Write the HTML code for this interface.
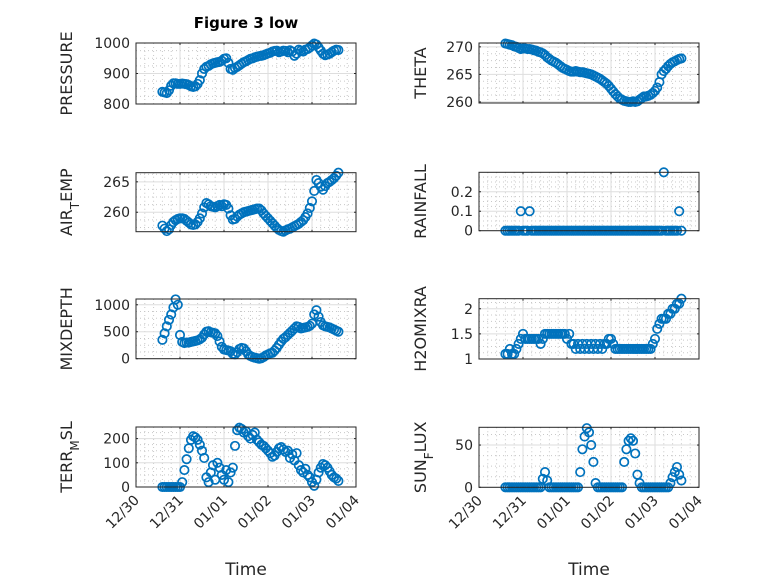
<!DOCTYPE html>
<html><head><meta charset="utf-8">
<style>
html,body{margin:0;padding:0;background:#fff;}
svg{display:block;font-family:"DejaVu Sans","Liberation Sans",sans-serif;}
</style></head>
<body>
<svg id="fig" width="778" height="583" viewBox="0 0 778 583">
<rect width="778" height="583" fill="#fff"/>
<text x="246" y="28" text-anchor="middle" font-size="15" font-weight="bold" fill="#000">Figure 3 low</text>
</svg>
<script>
const times = [0.6,0.65,0.7,0.75,0.8,0.85,0.9,0.95,1.0,1.05,1.1,1.15,1.2,1.25,1.3,1.35,1.4,1.45,1.5,1.55,1.6,1.65,1.7,1.75,1.8,1.85,1.9,1.95,2.0,2.05,2.1,2.15,2.2,2.25,2.3,2.35,2.4,2.45,2.5,2.55,2.6,2.65,2.7,2.75,2.8,2.85,2.9,2.95,3.0,3.05,3.1,3.15,3.2,3.25,3.3,3.35,3.4,3.45,3.5,3.55,3.6,3.65,3.7,3.75,3.8,3.85,3.9,3.95,4.0,4.05,4.1,4.15,4.2,4.25,4.3,4.35,4.4,4.45,4.5,4.55,4.6];
const xTickLabels = ["12/30","12/31","01/01","01/02","01/03","01/04"];
const pressure = [840,838,836,845,860,868,868,866,866,867,866,865,862,858,856,858,866,878,900,915,922,925,930,933,935,937,938,942,948,950,935,915,912,918,922,927,932,937,940,944,948,950,953,955,957,958,960,963,966,968,972,974,975,970,972,975,974,970,976,972,958,965,978,975,972,978,980,985,992,998,995,985,975,965,960,962,965,970,975,978,977];
const theta = [270.6,270.5,270.4,270.3,270.1,270.0,269.8,269.6,269.7,269.7,269.6,269.6,269.5,269.4,269.3,269.1,269.0,268.8,268.5,268.1,267.8,267.5,267.3,267.1,266.8,266.5,266.2,266.0,265.8,265.6,265.5,265.5,265.6,265.5,265.4,265.4,265.3,265.2,265.1,265.0,264.8,264.6,264.4,264.2,263.9,263.6,263.3,262.9,262.4,261.9,261.4,261.0,260.6,260.4,260.2,260.1,260.0,260.0,260.1,260.0,260.1,260.4,260.7,261.0,261.0,261.1,261.3,261.6,262.0,262.6,263.6,265.0,265.6,266.0,266.5,266.9,267.2,267.4,267.6,267.8,267.9];
const airTemp = [257.8,257.3,256.9,257.2,257.9,258.4,258.7,258.9,259.0,259.0,258.9,258.6,258.3,258.0,257.9,258.0,258.4,259.0,259.8,260.8,261.5,261.3,261.0,260.9,260.8,261.0,261.2,261.0,261.3,261.2,260.6,259.5,258.8,258.9,259.3,259.6,259.8,260.0,260.1,260.2,260.3,260.4,260.5,260.6,260.6,260.3,259.8,259.4,259.0,258.6,258.2,257.8,257.4,257.1,256.9,256.8,257.0,257.2,257.3,257.5,257.7,257.9,258.1,258.4,258.7,259.2,259.8,260.7,261.8,263.5,265.3,264.8,264.2,263.7,264.3,264.8,265.0,265.3,265.6,266.0,266.5];
const rainfall = [0,0,0,0,0,0,0,0.1,0,0,0,0.1,0,0,0,0,0,0,0,0,0,0,0,0,0,0,0,0,0,0,0,0,0,0,0,0,0,0,0,0,0,0,0,0,0,0,0,0,0,0,0,0,0,0,0,0,0,0,0,0,0,0,0,0,0,0,0,0,0,0,0,0,0.3,0,0,0,0,0,0,0.1,0];
const mixDepth = [350,470,600,720,820,950,1100,1000,440,310,290,300,300,310,320,330,340,360,390,450,500,510,490,480,470,420,320,220,170,160,150,140,90,80,120,180,200,190,140,80,50,30,20,10,0,10,30,60,80,100,110,150,200,260,320,370,400,440,480,520,560,600,590,560,570,580,590,610,650,820,900,780,680,620,600,590,580,560,540,520,500];
const h2oMix = [1.1,1.1,1.2,1.1,1.1,1.2,1.3,1.4,1.5,1.4,1.4,1.4,1.4,1.4,1.4,1.4,1.3,1.4,1.5,1.5,1.5,1.5,1.5,1.5,1.5,1.5,1.5,1.5,1.4,1.5,1.3,1.3,1.2,1.3,1.2,1.3,1.2,1.3,1.2,1.3,1.2,1.3,1.2,1.3,1.2,1.3,1.3,1.4,1.4,1.3,1.2,1.2,1.2,1.2,1.2,1.2,1.2,1.2,1.2,1.2,1.2,1.2,1.2,1.2,1.2,1.2,1.2,1.3,1.4,1.6,1.7,1.8,1.8,1.8,1.9,1.9,2.0,2.0,2.1,2.1,2.2];
const terrMsl = [0,0,0,0,0,0,0,0,0,20,70,115,160,195,210,205,195,175,150,120,40,20,60,90,30,100,80,50,30,70,20,60,80,170,235,245,240,225,230,210,200,215,225,195,185,175,170,160,150,140,125,130,145,160,165,155,145,150,120,135,110,140,90,70,60,75,50,40,20,5,30,60,80,95,90,80,65,50,40,35,25];
const sunFlux = [0,0,0,0,0,0,0,0,0,0,0,0,0,0,0,0,0,10,18,8,0,0,0,0,0,0,0,0,0,0,0,0,0,0,18,45,60,70,65,50,30,5,0,0,0,0,0,0,0,0,0,0,0,0,30,45,55,58,55,40,15,5,0,0,0,0,0,0,0,0,0,0,0,0,0,5,12,18,24,15,8];

const pressureTicks=[800,900,1000], thetaTicks=[260,265,270], airTicks=[260,265], rainTicks=[0,0.1,0.2], mixTicks=[0,500,1000], h2oTicks=[1,1.5,2], terrTicks=[0,100,200], sunTicks=[0,50];

const NS='http://www.w3.org/2000/svg';
const svg=document.getElementById('fig');
function mk(tag,attrs,parent){const e=document.createElementNS(NS,tag);for(const k in attrs)e.setAttribute(k,attrs[k]);(parent||svg).appendChild(e);return e;}

function panel(key,x0,x1,y0,y1,ymin,ymax,ticks,minorStep,series,labelHTML,labelX,showX){
  const g=mk('g',{});
  
  
  const sx=t=>x0+(t/5)*(x1-x0);
  const sy=v=>y1-(v-ymin)/(ymax-ymin)*(y1-y0);
  mk('rect',{x:x0,y:y0,width:x1-x0,height:y1-y0,fill:'#fff'},g);
  for(let d=0;d<5;d++)for(let k=1;k<5;k++){const xx=sx(d+k/5);mk('line',{x1:xx,x2:xx,y1:y0,y2:y1,stroke:'#c8c8c8','stroke-width':1,'stroke-dasharray':'1,3'},g);}
  for(let v=Math.ceil(ymin/minorStep)*minorStep;v<ymax;v+=minorStep){const yy=sy(v);if(ticks.some(t=>Math.abs(t-v)<1e-9))continue;mk('line',{x1:x0,x2:x1,y1:yy,y2:yy,stroke:'#c8c8c8','stroke-width':1,'stroke-dasharray':'1,3'},g);}
  for(let d=1;d<5;d++){const xx=sx(d);mk('line',{x1:xx,x2:xx,y1:y0,y2:y1,stroke:'#dedede','stroke-width':1},g);}
  ticks.forEach(v=>{const yy=sy(v);mk('line',{x1:x0,x2:x1,y1:yy,y2:yy,stroke:'#dedede','stroke-width':1},g);
    const tl=mk('text',{x:x0-6,y:yy+5,'text-anchor':'end','font-size':14,fill:'#262626'},g);tl.textContent=String(v);
    
    
    mk('line',{x1:x0,x2:x0+2,y1:yy,y2:yy,stroke:'#262626'},g);mk('line',{x1:x1-2,x2:x1,y1:yy,y2:yy,stroke:'#262626'},g);});
  for(let d=0;d<=5;d++){const xx=sx(d);mk('line',{x1:xx,x2:xx,y1:y1,y2:y1-2,stroke:'#262626'},g);mk('line',{x1:xx,x2:xx,y1:y0,y2:y0+2,stroke:'#262626'},g);
    if(showX){const tl=mk('text',{x:xx+4,y:y1+14,'text-anchor':'end','font-size':14,fill:'#262626',transform:`rotate(-45 ${xx+4} ${y1+14})`},g);tl.textContent=xTickLabels[d];
      
      }}
  const pg=mk('g',{fill:'none',stroke:'#0072bd','stroke-width':1.7},g);
  
  
  series.forEach((v,i)=>{const c=mk('circle',{cx:sx(times[i]),cy:sy(v),r:4.2},pg);
    
    });
  mk('rect',{x:x0,y:y0,width:x1-x0,height:y1-y0,fill:'none',stroke:'#262626','stroke-width':1},g);
  const yl=mk('text',{x:labelX,y:(y0+y1)/2,'text-anchor':'middle','font-size':16,fill:'#262626',transform:`rotate(-90 ${labelX} ${(y0+y1)/2})`},g);
  yl.innerHTML=labelHTML;
  
  
  if(showX){const xt=mk('text',{x:(x0+x1)/2,y:575,'text-anchor':'middle','font-size':17,fill:'#262626'},g);xt.textContent='Time';
    
    }
}
const L0=136,L1=356,R0=479,R1=699;
panel('pressure',L0,L1,43,104,800,1000,pressureTicks,25,pressure,'PRESSURE',72,false);
panel('theta',R0,R1,43,103,259.8,270.7,thetaTicks,1.25,theta,'THETA',426,false);
panel('air-temp',L0,L1,172.7,231.7,256.8,266.5,airTicks,1.25,airTemp,'AIR<tspan baseline-shift="sub" font-size="12">T</tspan>EMP',72,false);
panel('rainfall',R0,R1,172.3,230.7,0,0.3,rainTicks,0.025,rainfall,'RAINFALL',426,false);
panel('mixdepth',L0,L1,299,358.7,0,1107,mixTicks,125,mixDepth,'MIXDEPTH',72,false);
panel('h2omixra',R0,R1,298.7,359,1,2.2,h2oTicks,0.125,h2oMix,'H2OMIXRA',426,false);
panel('terr-msl',L0,L1,427,487,0,248,terrTicks,25,terrMsl,'TERR<tspan baseline-shift="sub" font-size="12">M</tspan>SL',72,true);
panel('sun-flux',R0,R1,427.3,487.3,0,71,sunTicks,12.5,sunFlux,'SUN<tspan baseline-shift="sub" font-size="12">F</tspan>LUX',426,true);
</script>
</body></html>
